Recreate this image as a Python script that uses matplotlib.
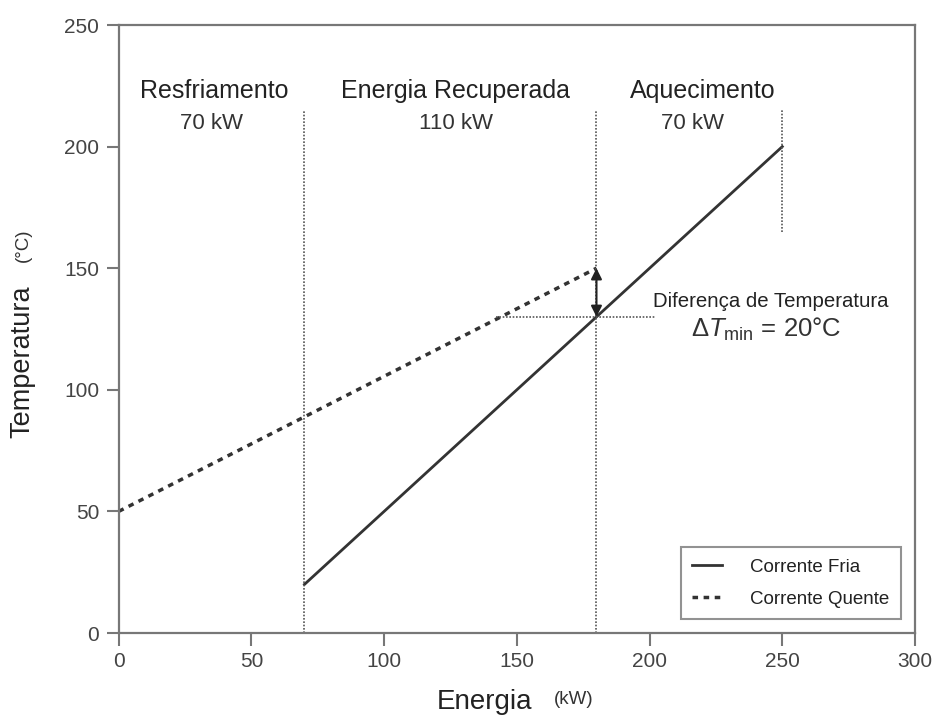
import matplotlib
matplotlib.use("Agg")
import matplotlib.pyplot as plt

plt.rcParams['font.family'] = ['Liberation Sans', 'DejaVu Sans']
plt.rcParams['mathtext.fontset'] = 'custom'
plt.rcParams['mathtext.rm'] = 'Liberation Sans'
plt.rcParams['mathtext.it'] = 'Liberation Sans:italic'

# streams
hot_x = [0, 180]
hot_y = [50, 150]
cold_x = [70, 250]
cold_y = [20, 200]

# region boundaries (x, y_start, y_end)
bound_x = [70, 180, 250]
bound_y0 = [0, 0, 165]
bound_y1 = [215, 215, 215]

# pinch
pinch_x = 180
pinch_hot = 150
pinch_cold = 130
pinch_line_x = [142, 202]

regions = ["Resfriamento", "Energia Recuperada", "Aquecimento"]
region_kw = ["70 kW", "110 kW", "70 kW"]
region_x = [36, 127, 220]
region_kw_x = [35, 127, 216]

xticks = [0, 50, 100, 150, 200, 250, 300]
yticks = [0, 50, 100, 150, 200, 250]

spine_c = '#777777'
line_c = '#333333'
txt_c = '#222222'

fig = plt.figure(figsize=(9.38, 7.19), dpi=100)
ax = fig.add_axes([0.1265, 0.1196, 0.849, 0.8456])

ax.plot(cold_x, cold_y, color=line_c, lw=2, label='Corrente Fria')
ax.plot(hot_x, hot_y, color=line_c, lw=2.5, ls=(0, (1.6, 1.6)), label='Corrente Quente')

for bx, b0, b1 in zip(bound_x, bound_y0, bound_y1):
    ax.plot([bx, bx], [b0, b1], color='#555555', lw=1.2, ls=(0, (1, 1)))
ax.plot(pinch_line_x, [pinch_cold, pinch_cold], color='#555555', lw=1.2, ls=(0, (1, 1)))

ax.annotate('', xy=(pinch_x, pinch_hot), xytext=(pinch_x, pinch_cold),
            arrowprops=dict(arrowstyle='<|-|>', color='#222222', lw=1.5,
                            mutation_scale=16, shrinkA=0, shrinkB=0))

for name, kw, rx, kx in zip(regions, region_kw, region_x, region_kw_x):
    ax.text(rx, 223, name, ha='center', va='center', fontsize=18, color=txt_c)
    ax.text(kx, 209.5, kw, ha='center', va='center', fontsize=16, color='#333333')

ax.text(245.6, 136.3, "Diferença de Temperatura", ha='center', va='center',
        fontsize=14.7, color=txt_c)
ax.text(244, 124.8, r"$\Delta T_{\rm min}$ = 20°C", ha='center', va='center',
        fontsize=18.5, color='#333333')

ax.set_xlim(0, 300)
ax.set_ylim(0, 250)
ax.set_xticks(xticks)
ax.set_yticks(yticks)
ax.tick_params(direction='out', length=9, width=1.5, color=spine_c,
               labelsize=15, labelcolor='#444444', pad=5)
for s in ax.spines.values():
    s.set_color(spine_c)
    s.set_linewidth(1.6)

fig.text(0.024, 0.497, "Temperatura", rotation=90, ha='center', va='center',
         fontsize=19.5, color=txt_c)
fig.text(0.025, 0.659, "(°C)", rotation=90, ha='center', va='center',
         fontsize=13.5, color='#333333')
fig.text(0.517, 0.024, "Energia", ha='center', va='center', fontsize=20, color=txt_c)
fig.text(0.612, 0.027, "(kW)", ha='center', va='center', fontsize=13.5, color='#333333')

leg = ax.legend(loc='lower right', bbox_to_anchor=(0.982, 0.023), borderaxespad=0,
                fontsize=13.5, frameon=True, fancybox=False, handlelength=1.6,
                borderpad=0.6, labelspacing=0.8, handletextpad=1.5)
leg.get_frame().set_edgecolor(spine_c)
leg.get_frame().set_linewidth(1.5)
for t in leg.get_texts():
    t.set_color(txt_c)

fig.savefig("out.png", dpi=100)
